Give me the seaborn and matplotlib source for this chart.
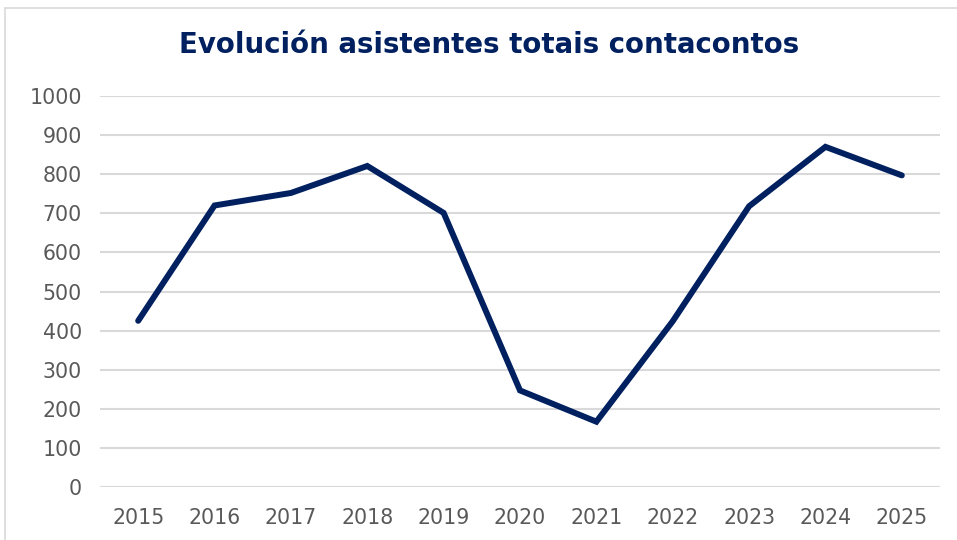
import matplotlib
matplotlib.use('Agg')
import pandas as pd
import matplotlib.pyplot as plt
from matplotlib.patches import Rectangle
import seaborn as sns

# values
years = [2015, 2016, 2017, 2018, 2019, 2020, 2021, 2022, 2023, 2024, 2025]
asistentes = [425, 720, 752, 821, 701, 247, 167, 424, 718, 870, 797]
yticks = [0, 100, 200, 300, 400, 500, 600, 700, 800, 900, 1000]

df = pd.DataFrame({'ano': years, 'asistentes': asistentes})

sns.set_theme(style='white')
plt.rcParams['font.family'] = ['DejaVu Sans']

navy = '#002060'
grey = '#595959'

fig = plt.figure(figsize=(9.57, 5.40), dpi=100)
ax = fig.add_axes([100 / 957, 1 - 487 / 540, 840 / 957, 391 / 540])

sns.lineplot(data=df, x='ano', y='asistentes', ax=ax, color=navy,
             linewidth=4.3, solid_capstyle='round', solid_joinstyle='miter')

ax.set_xlim(2014.5, 2025.5)
ax.set_ylim(0, 1000)
ax.set_xticks(years)
ax.set_yticks(yticks)
ax.set_xticklabels([str(y) for y in years])
ax.tick_params(axis='both', labelsize=14.8, colors=grey, length=0)
ax.tick_params(axis='x', pad=15)
ax.tick_params(axis='y', pad=13)
ax.yaxis.grid(True, color='#d9d9d9', linewidth=1.5)
ax.set_axisbelow(True)
for s in ax.spines.values():
    s.set_visible(False)
ax.set_xlabel('')
ax.set_ylabel('')

fig.text(489 / 957, 1 - 45 / 540, 'Evolución asistentes totais contacontos',
         ha='center', va='center', fontsize=19.9, fontweight='bold', color=navy)

# light frame of the chart area (cropped at right and bottom)
fig.patches.append(Rectangle((5 / 957, -0.1), 1.2, 1.1 - 8 / 540,
                             transform=fig.transFigure, fill=False,
                             edgecolor='#d9d9d9', linewidth=1.2))

fig.savefig('out.png', dpi=100)
